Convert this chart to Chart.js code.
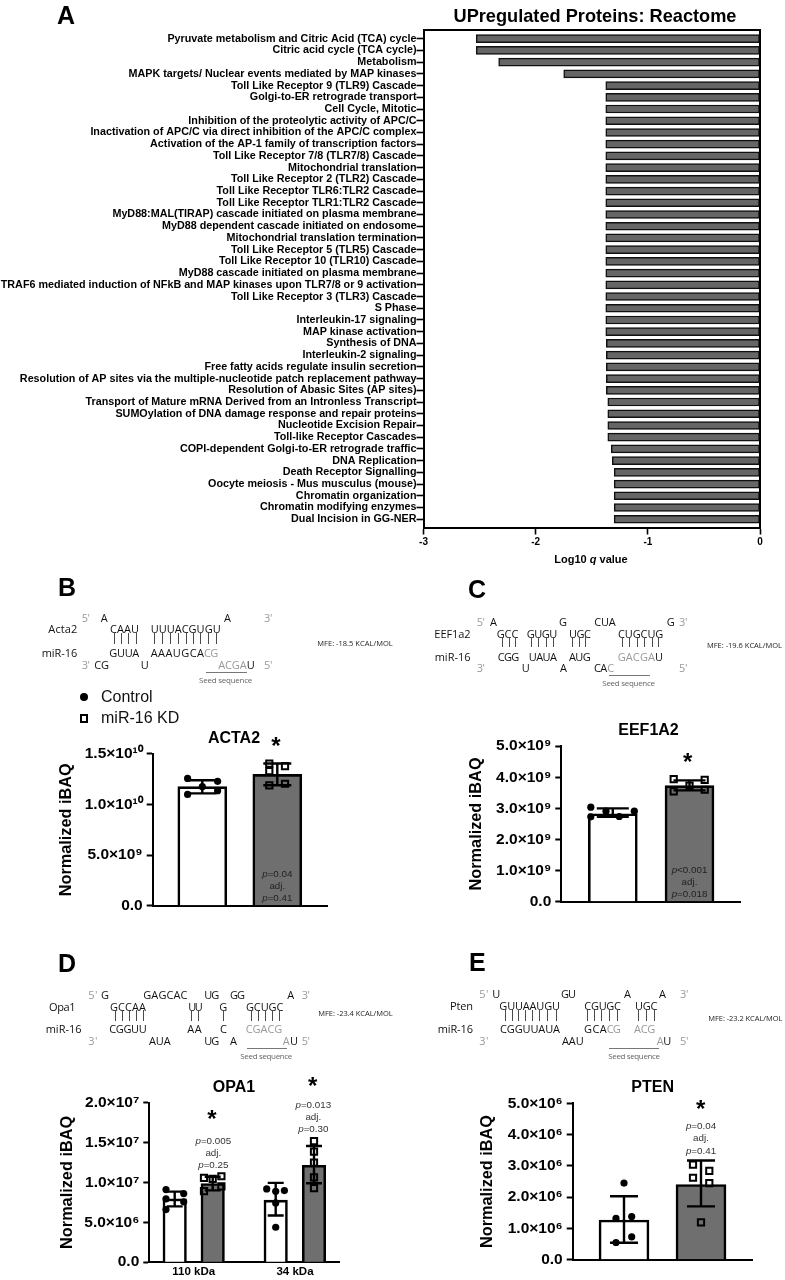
<!DOCTYPE html>
<html><head><meta charset="utf-8">
<script src="https://cdn.jsdelivr.net/npm/chart.js@4"></script>
<style>
html,body{margin:0;padding:0;background:#fff}
#page{position:relative;width:785px;height:1280px;overflow:hidden;background:#fff;font-family:"Liberation Sans",Arial,sans-serif}
#page canvas{position:absolute}
#overlay{position:absolute;left:0;top:0;width:785px;height:1280px;will-change:transform;background:transparent}
.t{position:absolute;white-space:nowrap;line-height:1;transform:translateY(-50%)}
.c{transform:translate(-50%,-50%);text-align:center}
.n{font-family:"Open Sans",sans-serif;font-size:11px;color:#111}
.g{color:#9a9a9a}
.r{position:absolute}
</style></head><body><div id="page"></div>
<script>
/* ---------- data ---------- */
const reactomeLabels=["Pyruvate metabolism and Citric Acid (TCA) cycle","Citric acid cycle (TCA cycle)","Metabolism","MAPK targets/ Nuclear events mediated by MAP kinases","Toll Like Receptor 9 (TLR9) Cascade","Golgi-to-ER retrograde transport","Cell Cycle, Mitotic","Inhibition of the proteolytic activity of APC/C","Inactivation of APC/C via direct inhibition of the APC/C complex","Activation of the AP-1 family of transcription factors","Toll Like Receptor 7/8 (TLR7/8) Cascade","Mitochondrial translation","Toll Like Receptor 2 (TLR2) Cascade","Toll Like Receptor TLR6:TLR2 Cascade","Toll Like Receptor TLR1:TLR2 Cascade","MyD88:MAL(TIRAP) cascade initiated on plasma membrane","MyD88 dependent cascade initiated on endosome","Mitochondrial translation termination","Toll Like Receptor 5 (TLR5) Cascade","Toll Like Receptor 10 (TLR10) Cascade","MyD88 cascade initiated on plasma membrane","TRAF6 mediated induction of NFkB and MAP kinases upon TLR7/8 or 9 activation","Toll Like Receptor 3 (TLR3) Cascade","S Phase","Interleukin-17 signaling","MAP kinase activation","Synthesis of DNA","Interleukin-2 signaling","Free fatty acids regulate insulin secretion","Resolution of AP sites via the multiple-nucleotide patch replacement pathway","Resolution of Abasic Sites (AP sites)","Transport of Mature mRNA Derived from an Intronless Transcript","SUMOylation of DNA damage response and repair proteins","Nucleotide Excision Repair","Toll-like Receptor Cascades","COPI-dependent Golgi-to-ER retrograde traffic","DNA Replication","Death Receptor Signalling","Oocyte meiosis - Mus musculus (mouse)","Chromatin organization","Chromatin modifying enzymes","Dual Incision in GG-NER"];
const reactomeValues=[-2.53,-2.53,-2.33,-1.75,-1.375,-1.375,-1.375,-1.375,-1.375,-1.375,-1.375,-1.375,-1.375,-1.375,-1.375,-1.375,-1.375,-1.375,-1.375,-1.375,-1.375,-1.375,-1.375,-1.375,-1.375,-1.375,-1.37,-1.37,-1.37,-1.37,-1.37,-1.357,-1.357,-1.357,-1.357,-1.326,-1.317,-1.30,-1.30,-1.30,-1.30,-1.30];

const acta2Means=[1.176e10,1.297e10], acta2Low=[1.11e10,1.19e10], acta2High=[1.24e10,1.405e10];
const acta2Control=[1.258e10,1.229e10,1.176e10,1.137e10,1.10e10];
const acta2Kd=[1.405e10,1.38e10,1.33e10,1.19e10,1.205e10];
const acta2Ticks=["0.0","5.0×10⁹","1.0×10¹⁰","1.5×10¹⁰"];

const eef1a2Means=[2.825e9,3.73e9], eef1a2Low=[2.73e9,3.58e9], eef1a2High=[3.0e9,3.9e9];
const eef1a2Control=[3.04e9,2.91e9,2.91e9,2.73e9,2.74e9];
const eef1a2Kd=[3.94e9,3.92e9,3.73e9,3.55e9,3.60e9];
const eef1a2Ticks=["0.0","1.0×10⁹","2.0×10⁹","3.0×10⁹","4.0×10⁹","5.0×10⁹"];

const opa1Groups=["110 kDa","34 kDa"];
const opa1Means=[7.93e6,9.85e6,7.77e6,1.215e7], opa1Low=[7.0e6,9.0e6,5.85e6,9.9e6], opa1High=[8.85e6,1.07e7,9.94e6,1.457e7];
const opa1Control110=[9.1e6,8.6e6,7.93e6,7.56e6,6.6e6];
const opa1Kd110=[1.077e7,1.056e7,1.044e7,8.9e6,9.5e6];
const opa1Control34=[9.18e6,8.98e6,7.43e6,4.38e6,8.88e6];
const opa1Kd34=[1.516e7,1.386e7,1.248e7,1.064e7,9.27e6];
const opa1Ticks=["0.0","5.0×10⁶","1.0×10⁷","1.5×10⁷","2.0×10⁷"];

const ptenMeans=[1.27e6,2.405e6], ptenLow=[5.4e5,1.705e6], ptenHigh=[2.03e6,3.17e6];
const ptenControl=[2.45e6,1.32e6,1.38e6,7.3e5,5.5e5];
const ptenKd=[3.04e6,2.84e6,2.62e6,2.45e6,1.19e6];
const ptenTicks=["0.0","1.0×10⁶","2.0×10⁶","3.0×10⁶","4.0×10⁶","5.0×10⁶"];

/* ---------- setup ---------- */
const page=document.getElementById('page');
const FONT='"Liberation Sans",Arial,sans-serif';
const GREY='#6f6f6f';
Chart.defaults.font.family=FONT;
Chart.defaults.color='#000';
Chart.defaults.animation=false;

const errorBars={id:'errorBars',afterDatasetsDraw(chart,args,o){
  if(!o.pos)return;
  const ctx=chart.ctx,x=chart.scales.x,y=chart.scales.y;
  ctx.save();ctx.strokeStyle='#000';ctx.lineWidth=o.lw||2.4;ctx.beginPath();
  o.pos.forEach((p,i)=>{
    const px=x.getPixelForValue(p),lo=y.getPixelForValue(o.low[i]),hi=y.getPixelForValue(o.high[i]);
    ctx.moveTo(px,lo);ctx.lineTo(px,hi);
    ctx.moveTo(px-o.cap/2,lo);ctx.lineTo(px+o.cap/2,lo);
    ctx.moveTo(px-o.cap/2,hi);ctx.lineTo(px+o.cap/2,hi);
  });
  ctx.stroke();ctx.restore();
}};
const frame={id:'frame',afterDatasetsDraw(chart,args,o){
  if(!o.on)return;
  const a=chart.chartArea,ctx=chart.ctx;
  ctx.save();ctx.strokeStyle='#000';ctx.lineWidth=2;ctx.beginPath();
  ctx.moveTo(a.left,a.top);ctx.lineTo(a.right,a.top);ctx.lineTo(a.right,a.bottom);ctx.stroke();ctx.restore();
}};
const titleSpot={id:'titleSpot',afterLayout(chart,args,o){
  if(o.cx===undefined)return;
  const w=400;
  chart.titleBlock.left=o.cx-chart.canvas._left-w;
  chart.titleBlock.right=o.cx-chart.canvas._left+w;
}};
Chart.register(errorBars,frame,titleSpot);

function addCanvas(l,t,w,h){
  const c=document.createElement('canvas');
  c.width=w;c.height=h;c.style.left=l+'px';c.style.top=t+'px';c.style.width=w+'px';c.style.height=h+'px';
  c._left=l;page.appendChild(c);return c;
}

/* Panel A */
(function(){
  const P={l:423.5,r:760,t:30,b:527.5};
  const cl=0,ct=P.t-12,W=785,H=580-ct;
  const c=addCanvas(cl,ct,W,H);
  const step=11.72,first=38.7;
  new Chart(c,{type:'bar',
    data:{labels:reactomeLabels,datasets:[{label:'Log10 q value',
      data:reactomeValues.map((v,i)=>({x:v,y:i})),
      backgroundColor:'#666666',borderColor:'#111',borderWidth:1.5,barThickness:8,borderSkipped:false}]},
    options:{indexAxis:'y',responsive:false,maintainAspectRatio:false,
      layout:{padding:{left:0,top:P.t-ct,right:W-P.r,bottom:0}},
      plugins:{legend:{display:false},tooltip:{enabled:false},title:{display:false},frame:{on:true}},
      scales:{
        x:{type:'linear',offset:false,min:-3,max:0,grid:{display:true,offset:false,drawOnChartArea:false,drawTicks:true,tickLength:7,tickWidth:1.6,tickColor:'#000'},
           border:{color:'#000',width:2},
           ticks:{stepSize:1,padding:2,font:{size:10,weight:'bold'},maxRotation:0,callback:v=>String(v)},
           afterFit(s){s.height=H-(P.b-ct);}},
        y:{type:'linear',offset:false,reverse:true,min:-(first-P.t)/step,max:(P.b-first)/step,
           grid:{display:true,offset:false,drawOnChartArea:false,tickLength:7,tickWidth:1.6,tickColor:'#000'},
           border:{color:'#000',width:2},
           ticks:{stepSize:1,autoSkip:false,includeBounds:false,padding:0,font:{size:10.75,weight:'bold'},callback:v=>reactomeLabels[v]},
           afterFit(s){s.width=P.l;}}
      }}});
})();

/* Bar panels B-E */
function panel(o){
  const lh=19.56, T=o.titleY-9.6, tb=o.P.t-T-19.2;
  const scaleLeft=o.yTitleX-lh/2, cl=Math.floor(scaleLeft);
  const xH=o.xLabels?17:12;
  const W=Math.ceil(o.P.r+12-cl), H=Math.ceil(o.P.b+xH-T);
  const c=addCanvas(cl,T,W,H);
  const u=o.unit, c0=o.centers[0];
  const pos=o.centers.map(p=>(p-c0)/u);
  const bars=k=>pos.map((p,i)=>({x:p,y:o.means[i]})).filter((_,i)=>i%2===k);
  const pts=k=>{let out=[];o.points.forEach((arr,i)=>{if(i%2===k)arr.forEach((v,j)=>out.push({x:pos[i]+o.jitter[i][j]/u,y:v}));});return out;};
  const tickStep=o.yMax/(o.yTicks.length-1);
  new Chart(c,{type:'bar',
    data:{datasets:[
      {type:'bar',label:'Control',data:bars(0),backgroundColor:'#fff',borderColor:'#000',borderWidth:2.6,barThickness:o.barW,grouped:false,order:3},
      {type:'bar',label:'miR-16 KD',data:bars(1),backgroundColor:GREY,borderColor:'#000',borderWidth:2.6,barThickness:o.barW,grouped:false,order:3},
      {type:'scatter',label:'Control replicates',data:pts(0),pointStyle:'circle',pointRadius:3.6,backgroundColor:'#000',borderColor:'#000',borderWidth:0,order:1,clip:false},
      {type:'scatter',label:'miR-16 KD replicates',data:pts(1),pointStyle:'rect',pointRadius:4.4,backgroundColor:'rgba(0,0,0,0)',borderColor:'#000',borderWidth:2,order:1,clip:false}
    ]},
    options:{responsive:false,maintainAspectRatio:false,
      layout:{padding:{left:scaleLeft-cl,right:W-(o.P.r-cl),top:0,bottom:H-(o.P.b-T)-xH}},
      plugins:{legend:{display:false},tooltip:{enabled:false},
        title:{display:true,text:o.title,font:{size:16,weight:'bold'},padding:{top:0,bottom:tb}},
        titleSpot:{cx:o.titleX},
        errorBars:{pos,low:o.low,high:o.high,cap:o.cap}},
      scales:{
        x:{type:'linear',offset:false,min:(o.P.l-c0)/u,max:(o.P.r-c0)/u,
           grid:{display:false,offset:false,drawTicks:false},border:{color:'#000',width:2},
           afterBuildTicks(s){s.ticks=o.xLabels?o.xTickPos.map(p=>({value:(p-c0)/u})):[];},
           ticks:{display:!!o.xLabels,padding:3,maxRotation:0,font:{size:11.5,weight:'bold'},
             callback:(v,i)=>o.xLabels?o.xLabels[i]:''},
           afterFit(s){s.height=xH;}},
        y:{type:'linear',min:0,max:o.yMax,
           grid:{drawOnChartArea:false,tickLength:6,tickWidth:2,tickColor:'#000'},
           border:{color:'#000',width:2},
           ticks:{stepSize:tickStep,padding:4,font:{size:15.5,weight:'bold'},autoSkip:false,callback:(v,i)=>o.yTicks[i]},
           title:{display:true,text:'Normalized iBAQ',font:{size:16.3,weight:'bold'},padding:{top:0,bottom:0}},
           afterFit(s){s.width=o.P.l-scaleLeft;}}
      }}});
}
panel({title:'ACTA2',titleX:234,titleY:739,yTitleX:66.7,P:{l:152.7,r:327,t:754.3,b:907.3},
  centers:[202.3,277.3],unit:75,barW:49,cap:28,yMax:1.5e10,yTicks:acta2Ticks,
  means:acta2Means,low:acta2Low,high:acta2High,points:[acta2Control,acta2Kd],
  jitter:[[-14.7,15.3,0,15.3,-14.7],[-8,7.7,-8,-8,7.7]]});
panel({title:'EEF1A2',titleX:648.5,titleY:730.7,yTitleX:476.7,P:{l:561.3,r:740.7,t:746.3,b:902.7},
  centers:[612.8,689.5],unit:76.7,barW:49,cap:32,yMax:5e9,yTicks:eef1a2Ticks,
  means:eef1a2Means,low:eef1a2Low,high:eef1a2High,points:[eef1a2Control,eef1a2Kd],
  jitter:[[-22,-6.8,21.5,-22,6.5],[-15.8,15.2,0,-15.8,15.2]]});
panel({title:'OPA1',titleX:234,titleY:1087.7,yTitleX:67.3,P:{l:149.3,r:339,t:1102.7,b:1262.3},
  centers:[174.7,212.7,275.7,314],unit:38,barW:23.5,cap:16,yMax:2e7,yTicks:opa1Ticks,
  xLabels:opa1Groups,xTickPos:[193.7,295],
  means:opa1Means,low:opa1Low,high:opa1High,points:[opa1Control110,opa1Kd110,opa1Control34,opa1Kd34],
  jitter:[[-8.7,9,-8.7,9,-8.7],[8.7,-8.7,0,-8.7,8.7],[-9,8.7,0,0,0],[0,0,0,0,0]]});
panel({title:'PTEN',titleX:652.7,titleY:1088,yTitleX:488,P:{l:572.7,r:752,t:1103.7,b:1261},
  centers:[624,701],unit:77,barW:50,cap:28,yMax:5e6,yTicks:ptenTicks,
  means:ptenMeans,low:ptenLow,high:ptenHigh,points:[ptenControl,ptenKd],
  jitter:[[0,-8,7.7,7.7,-8],[-8,8.3,-8,8.3,0]]});

/* ---------- text annotations ---------- */
const overlay=document.createElement('div');overlay.id='overlay';page.appendChild(overlay);
function text(x,y,html,css,cls){
  const d=document.createElement('div');d.className='t '+(cls||'');d.style.left=x+'px';d.style.top=y+'px';
  d.innerHTML=html;if(css)d.style.cssText+=';'+css;overlay.appendChild(d);return d;
}
text(57,15,'A','font-size:25px;font-weight:bold');
text(58,587,'B','font-size:25px;font-weight:bold');
text(468,589,'C','font-size:25px;font-weight:bold');
text(58,963,'D','font-size:25px;font-weight:bold');
text(469,962,'E','font-size:25px;font-weight:bold');
text(595,16,'UPregulated Proteins: Reactome','font-size:18.2px;font-weight:bold','c');
text(591,559,'Log10 <i>q</i> value','font-size:11px;font-weight:bold','c');
/* legend */
(function(){
  const dot=document.createElement('div');dot.className='r';
  dot.style.cssText='left:80px;top:692.7px;width:8px;height:8px;border-radius:50%;background:#000';overlay.appendChild(dot);
  const sq=document.createElement('div');sq.className='r';
  sq.style.cssText='left:79.5px;top:714px;width:4.5px;height:4.5px;border:2px solid #000';overlay.appendChild(sq);
  text(101,697,'Control','font-size:16px;color:#111');
  text(101,718,'miR-16 KD','font-size:16px;color:#111');
})();
/* significance */
[[276,746],[687.7,762],[212,1119],[312.7,1086],[700.7,1109]].forEach(p=>text(p[0],p[1],'*','font-size:24px;font-weight:bold','c'));
function pval(x,ys,a,b,col){
  [a,'adj.',b].forEach((s,i)=>text(x,ys[i],s,'font-size:9.8px;color:'+col,'c'));
}
pval(277.3,[874,886,898.3],'<i>p</i>=0.04','<i>p</i>=0.41','#222');
pval(689.5,[870,882.3,894.3],'<i>p</i>&lt;0.001','<i>p</i>=0.018','#222');
pval(213.3,[1140.7,1152.7,1165],'<i>p</i>=0.005','<i>p</i>=0.25','#333');
pval(313.3,[1104.7,1116.7,1128.7],'<i>p</i>=0.013','<i>p</i>=0.30','#333');
pval(701,[1126.3,1138.3,1150.7],'<i>p</i>=0.04','<i>p</i>=0.41','#333');

/* RNA duplex diagrams: coordinates are in 3x crop units of each panel */
function duplex(ox,oy,segs,ticks,tickY,seed,seedTextBox,mfe,mfeBox){
  const X=v=>ox+v/3,Y=v=>oy+v/3;
  segs.forEach(s=>{
    const d=text(X(s[0]),Y(s[2]),s[3],'',s[4]?'n g':'n');
    const w=d.getBoundingClientRect().width,target=(s[1]-s[0])/3;
    if(s[3].length>1)d.style.letterSpacing=((target-w)/(s[3].length-1)).toFixed(3)+'px';
  });
  ticks.forEach(t=>{
    const r=document.createElement('div');r.className='r';
    r.style.cssText='left:'+X(t).toFixed(1)+'px;top:'+Y(tickY[0]).toFixed(1)+'px;width:1px;height:'+((tickY[1]-tickY[0])/3).toFixed(1)+'px;background:#4a4a4a';
    overlay.appendChild(r);
  });
  const l=document.createElement('div');l.className='r';
  l.style.cssText='left:'+X(seed[1]).toFixed(1)+'px;top:'+Y(seed[0]).toFixed(1)+'px;width:'+((seed[2]-seed[1])/3).toFixed(1)+'px;height:1px;background:#777';
  overlay.appendChild(l);
  const st=text(X(seedTextBox[0]),Y(seedTextBox[2]),'Seed sequence','font-size:8px;color:#666','n');
  st.style.letterSpacing=(((seedTextBox[1]-seedTextBox[0])/3-st.getBoundingClientRect().width)/12).toFixed(3)+'px';
  const mt=text(X(mfeBox[0]),Y(mfeBox[2]),mfe,'font-size:7.5px;color:#222','n');
  mt.style.letterSpacing=(((mfeBox[1]-mfeBox[0])/3-mt.getBoundingClientRect().width)/(mfe.length-1)).toFixed(3)+'px';
}
duplex(0,570,[
 [245,270,140,"5'",1],[302,323,140,'A'],[672,692,140,'A'],[792,817,140,"3'",1],
 [145,232,175,'Acta2'],[330,417,175,'CAAU'],[452,662,175,'UUUACGUGU'],
 [125,232,247,'miR-16'],[328,418,247,'GUUA'],[452,612,247,'AAAUGCA'],[612,655,247,'CG',1],
 [245,270,282,"3'",1],[283,327,282,'CG'],[422,443,282,'U'],[655,740,282,'ACGA',1],[740,763,282,'U'],[792,817,282,"5'",1]
],[342,362,385,407,463,487,510,535,558,580,600,625,648],[190,222],[307,618,742],[597,757,331],'MFE: -18.5 KCAL/MOL',[952,1178,223]);
duplex(400,570,[
 [230,255,152,"5'",1],[270,292,152,'A'],[477,498,152,'G'],[583,647,152,'CUA'],[800,822,152,'G'],[837,862,152,"3'",1],
 [103,212,188,'EEF1a2'],[290,355,188,'GCC'],[380,472,188,'GUGU'],[507,573,188,'UGC'],[654,790,188,'CUGCUG'],
 [104,212,258,'miR-16'],[293,358,258,'CGG'],[386,471,258,'UAUA'],[507,572,258,'AUG'],[653,765,258,'GACGA',1],[765,787,258,'U'],
 [230,255,292,"3'",1],[365,385,292,'U'],[480,500,292,'A'],[582,622,292,'CA'],[622,643,292,'C',1],[837,862,292,"5'",1]
],[305,327,345,393,415,437,458,517,536,555,665,688,710,733,755,775],[200,232],[315,627,750],[607,765,340],'MFE: -19.6 KCAL/MOL',[921,1146,229]);
duplex(0,930,[
 [265,292,191,"5'",1],[303,326,191,'G'],[430,562,191,'GAGCAC'],[613,658,191,'UG'],[690,735,191,'GG'],[862,884,191,'A'],[905,930,191,"3'",1],
 [147,227,227,'Opa1'],[330,438,227,'GCCAA'],[565,608,227,'UU'],[658,682,227,'G'],[738,850,227,'GCUGC'],
 [137,245,295,'miR-16'],[328,440,295,'CGGUU'],[562,605,295,'AA'],[660,680,295,'C'],[737,847,295,'CGACG',1],
 [265,292,331,"3'",1],[447,512,331,'AUA'],[613,658,331,'UG'],[690,710,331,'A'],[848,870,331,'A',1],[870,891,331,'U'],[905,930,331,"5'",1]
],[345,367,388,408,428,574,593,670,752,773,795,816,836],[240,272],[355,742,862],[721,877,378],'MFE: -23.4 KCAL/MOL',[955,1178,251]);
duplex(400,930,[
 [238,265,190,"5'",1],[277,300,190,'U'],[483,528,190,'GU'],[672,694,190,'A'],[777,799,190,'A'],[840,865,190,"3'",1],
 [150,219,225,'Pten'],[298,480,225,'GUUAAUGU'],[553,663,225,'CGUGC'],[705,772,225,'UGC'],
 [113,219,295,'miR-16'],[300,480,295,'CGGUUAUA'],[552,620,295,'GCA'],[620,662,295,'CG',1],[702,766,295,'ACG',1],
 [238,265,331,"3'",1],[486,551,331,'AAU'],[770,790,331,'A',1],[790,813,331,'U'],[840,865,331,"5'",1]
],[315,336,355,376,397,418,440,467,562,583,604,627,650,715,738,762],[240,272],[353,626,778],[625,780,377],'MFE: -23.2 KCAL/MOL',[925,1147,268]);
</script></body></html>
